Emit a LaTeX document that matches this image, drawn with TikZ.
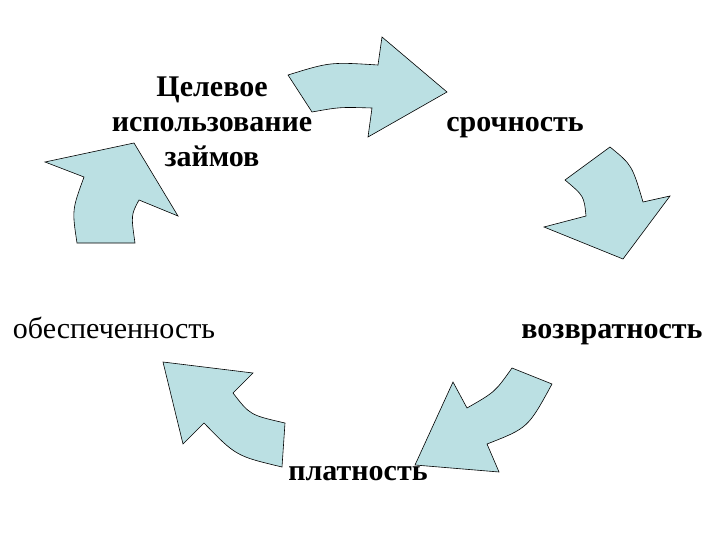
\documentclass[tikz,border=0pt]{standalone}
\usepackage{fontspec}
\setmainfont{Liberation Serif}
\definecolor{arrowblue}{RGB}{187,224,227}

\begin{document}
\begin{tikzpicture}[
        x=1pt, y=-1pt,
        bent/.style={draw=black, line width=0.6pt, line join=miter, fill=arrowblue},
        boldtext/.style={anchor=base, inner sep=0pt, font=\fontsize{30}{35}\selectfont\rmfamily\bfseries},
        plaintext/.style={anchor=base, inner sep=0pt, font=\fontsize{30}{35}\selectfont\rmfamily}
        ]

        \useasboundingbox (0,0) rectangle (720,540);

        % bent arrows
        \draw [bent] (288,75) .. controls (330,62) .. (378,65) -- (382,37) -- (447,92) -- (368,137) -- (372,108) .. controls (340,107) .. (312,112) -- cycle;
        \draw [bent] (610,147) .. controls (632,165) .. (643,202) -- (670,196) -- (623,259) -- (544,227) -- (586,216) .. controls (584,196) .. (565,180) -- cycle;
        \draw [bent] (512,368) -- (552,384) .. controls (528,428) .. (487,444) -- (499,472) -- (415,465) -- (453,382) -- (467,408) .. controls (495,392) .. (512,368) -- cycle;
        \draw [bent] (163,362) -- (253,373) -- (233,393) .. controls (250,415) .. (285,423) -- (282,467) .. controls (236,456) .. (204,423) -- (183,444) -- cycle;
        \draw [bent] (45,162) -- (134,143) -- (178,216) -- (139,200) .. controls (131,215) .. (135,243) -- (77,243) .. controls (72,210) .. (84,177) -- cycle;

        % texts
        \node (use)    [boldtext, align=center] at (212,167) {Целевое\\использование\\займов};
        \node (term)   [boldtext]               at (515,132) {срочность};
        \node (return) [boldtext]               at (612,338) {возвратность};
        \node (secure) [plaintext]              at (114,338) {обеспеченность};
        \node (pay)    [boldtext]               at (358,480) {платность};

    \end{tikzpicture}
\end{document}
